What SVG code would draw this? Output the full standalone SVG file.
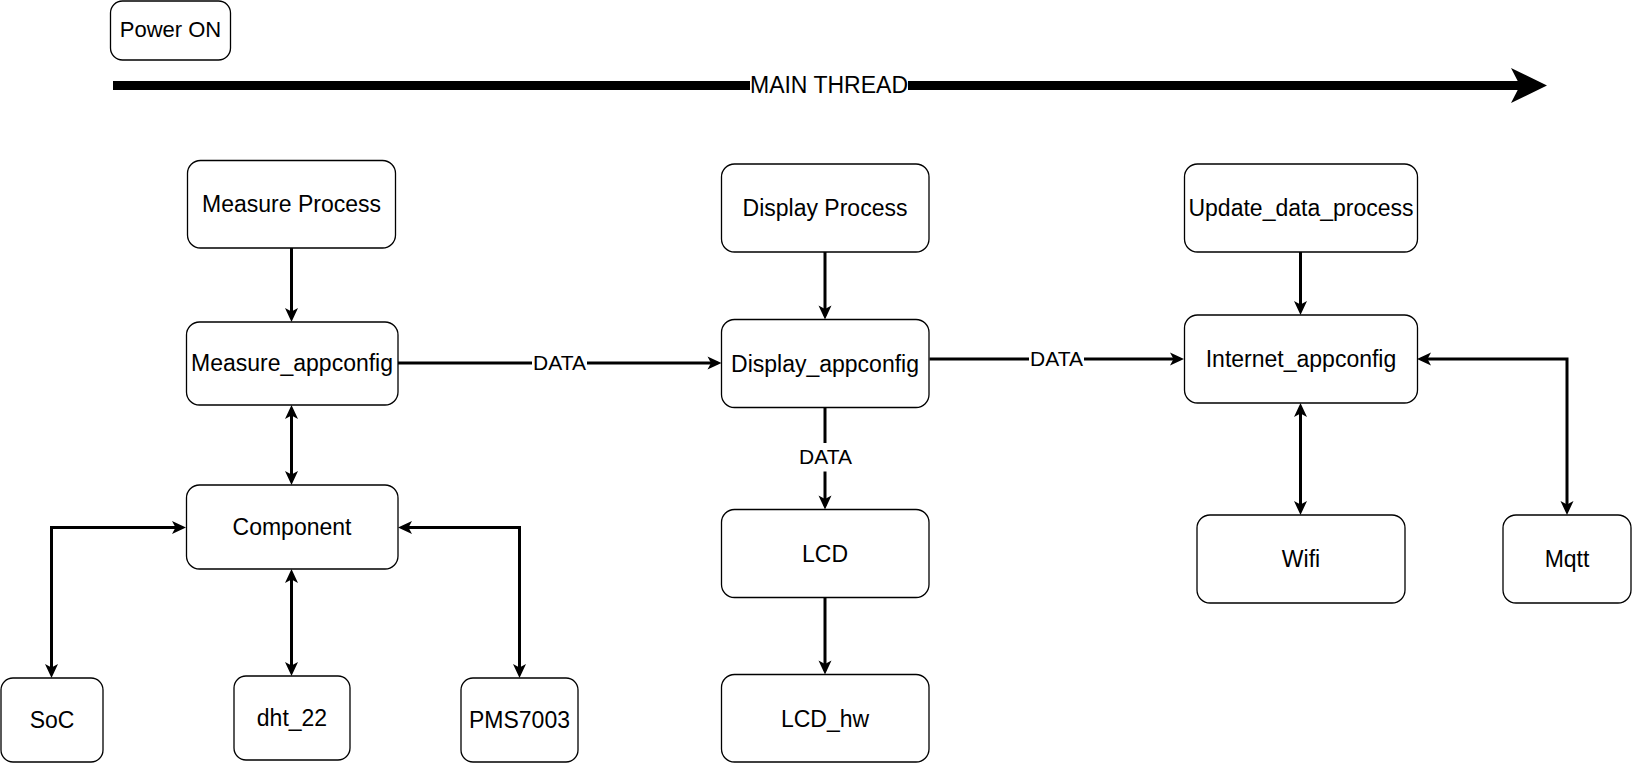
<svg xmlns="http://www.w3.org/2000/svg" width="1632" height="764" viewBox="0 0 1632 764">
  <style>
    .node rect { fill: #ffffff; stroke: #000000; stroke-width: 1.3; }
    .node text { font-family: "Liberation Sans", Arial, sans-serif; font-size: 23px; fill: #000000; text-anchor: middle; }
    .conn { fill: none; stroke: #000000; stroke-width: 3; }
    .lbl-bg { fill: #ffffff; stroke: none; }
    .lbl { font-family: "Liberation Sans", Arial, sans-serif; font-size: 21px; fill: #000000; text-anchor: middle; }
    .main-lbl { font-family: "Liberation Sans", Arial, sans-serif; font-size: 23px; fill: #000000; text-anchor: middle; }
  </style>
  <defs>
    <marker id="arr" markerUnits="userSpaceOnUse" markerWidth="16" markerHeight="16" viewBox="0 0 16 16" refX="11" refY="8" orient="auto-start-reverse">
      <path d="M1,1.5 L15,8 L1,14.5 L4.5,8 Z" fill="#000000"/>
    </marker>
  </defs>
  <rect width="1632" height="764" fill="#ffffff"/>

  <!-- Main thread -->
  <g id="main-thread">
    <line x1="113" y1="85.5" x2="1522" y2="85.5" stroke="#000000" stroke-width="9"/>
    <polygon points="1547,85.5 1511,68 1520,85.5 1511,103" fill="#000000"/>
    <rect class="lbl-bg" x="750" y="70" width="158" height="31"/>
    <text class="main-lbl" x="829" y="93">MAIN THREAD</text>
  </g>

  <!-- Connectors -->
  <g id="connectors">
    <path class="conn" d="M291.5,248 V318" marker-end="url(#arr)"/>
    <path class="conn" d="M291.5,409 V481" marker-start="url(#arr)" marker-end="url(#arr)"/>
    <path class="conn" d="M182,527.5 H51.5 V674" marker-start="url(#arr)" marker-end="url(#arr)"/>
    <path class="conn" d="M291.5,573 V672" marker-start="url(#arr)" marker-end="url(#arr)"/>
    <path class="conn" d="M402,527.5 H519.5 V674" marker-start="url(#arr)" marker-end="url(#arr)"/>
    <path class="conn" d="M398,363 H717.5" marker-end="url(#arr)"/>
    <path class="conn" d="M825,252 V315.5" marker-end="url(#arr)"/>
    <path class="conn" d="M929.5,359 H1180" marker-end="url(#arr)"/>
    <path class="conn" d="M825,407.5 V505.5" marker-end="url(#arr)"/>
    <path class="conn" d="M825,597.5 V670.5" marker-end="url(#arr)"/>
    <path class="conn" d="M1300.5,252 V311" marker-end="url(#arr)"/>
    <path class="conn" d="M1300.5,407 V511" marker-start="url(#arr)" marker-end="url(#arr)"/>
    <path class="conn" d="M1421,359 H1567 V511" marker-start="url(#arr)" marker-end="url(#arr)"/>
    <rect class="lbl-bg" x="532" y="349" width="55" height="28"/>
    <text class="lbl" x="559.5" y="369.5">DATA</text>
    <rect class="lbl-bg" x="1029" y="345" width="55" height="28"/>
    <text class="lbl" x="1056.5" y="365.5">DATA</text>
    <rect class="lbl-bg" x="798" y="443" width="55" height="28.5"/>
    <text class="lbl" x="825.5" y="464">DATA</text>
  </g>

  <!-- Nodes -->
  <g id="power-on" class="node">
    <rect x="110.5" y="1" width="120" height="59" rx="12"/>
    <text x="170.5" y="37" style="font-size:22px">Power ON</text>
  </g>
  <g id="measure-process" class="node">
    <rect x="187.5" y="160.5" width="208" height="87.5" rx="13"/>
    <text x="291.5" y="212">Measure Process</text>
  </g>
  <g id="measure-appconfig" class="node">
    <rect x="186.5" y="322" width="211.5" height="83" rx="13"/>
    <text x="292" y="371">Measure_appconfig</text>
  </g>
  <g id="component" class="node">
    <rect x="186.5" y="485" width="211.5" height="84" rx="13"/>
    <text x="292" y="535">Component</text>
  </g>
  <g id="soc" class="node">
    <rect x="1" y="678" width="102" height="84" rx="12"/>
    <text x="52" y="728">SoC</text>
  </g>
  <g id="dht22" class="node">
    <rect x="234" y="676" width="116" height="84" rx="12"/>
    <text x="292" y="726">dht_22</text>
  </g>
  <g id="pms7003" class="node">
    <rect x="461" y="678" width="117" height="84" rx="12"/>
    <text x="519.5" y="728">PMS7003</text>
  </g>
  <g id="display-process" class="node">
    <rect x="721.5" y="164" width="207.5" height="88" rx="13"/>
    <text x="825" y="216">Display Process</text>
  </g>
  <g id="display-appconfig" class="node">
    <rect x="721.5" y="319.5" width="207.5" height="88" rx="13"/>
    <text x="825" y="371.5">Display_appconfig</text>
  </g>
  <g id="lcd" class="node">
    <rect x="721.5" y="509.5" width="207.5" height="88" rx="13"/>
    <text x="825" y="561.5">LCD</text>
  </g>
  <g id="lcd-hw" class="node">
    <rect x="721.5" y="674.5" width="207.5" height="87.5" rx="13"/>
    <text x="825" y="726.5">LCD_hw</text>
  </g>
  <g id="update-data-process" class="node">
    <rect x="1184.5" y="164" width="233" height="88" rx="13"/>
    <text x="1301" y="216">Update_data_process</text>
  </g>
  <g id="internet-appconfig" class="node">
    <rect x="1184.5" y="315" width="233" height="88" rx="13"/>
    <text x="1301" y="367">Internet_appconfig</text>
  </g>
  <g id="wifi" class="node">
    <rect x="1197" y="515" width="208" height="88" rx="13"/>
    <text x="1301" y="567">Wifi</text>
  </g>
  <g id="mqtt" class="node">
    <rect x="1503" y="515" width="128" height="88" rx="13"/>
    <text x="1567" y="567">Mqtt</text>
  </g>
</svg>
